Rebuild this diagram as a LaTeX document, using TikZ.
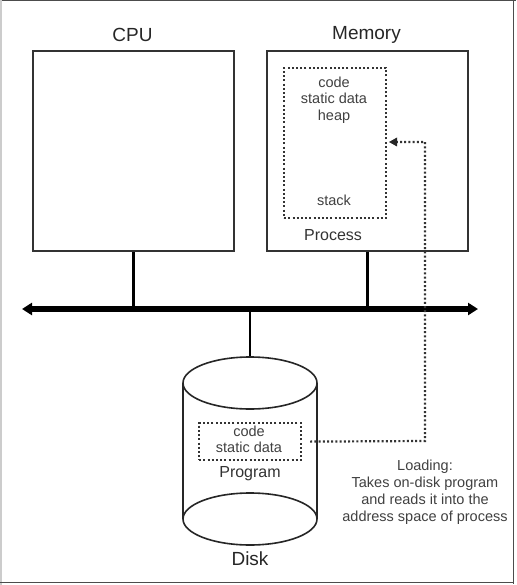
\documentclass[tikz,border=0pt]{standalone}
\usepackage{fontspec}
\setmainfont{Liberation Sans}
\usetikzlibrary{arrows.meta}
\begin{document}
\begin{tikzpicture}[x=1pt,y=-1pt,
  box/.style={draw=black!80, line width=1.8pt, inner sep=0pt},
  dotbox/.style={draw=black!80, line width=2.2pt, dash pattern=on 2pt off 2.2pt, inner sep=0pt},
  dotline/.style={draw=black!80, line width=2.2pt, dash pattern=on 2pt off 2.2pt},
  conn/.style={draw=black, line width=2.2pt},
  busline/.style={draw=black, line width=6pt, {Triangle[length=10pt,width=12pt]}-{Triangle[length=10pt,width=12pt]}},
  big/.style={text=black!85, inner sep=0pt, font=\fontsize{19}{19}\selectfont},
  mid/.style={text=black!80, inner sep=0pt, font=\fontsize{16}{16}\selectfont},
  small/.style={text=black!75, inner sep=0pt, font=\fontsize{14.5}{16.5}\selectfont, align=center},
  frame/.style={line width=1.2pt}
]
\useasboundingbox (0,0) rectangle (516,585);
% outer frame
\draw[frame, draw=black!70] (0,0.6) -- (516,0.6);
\draw[frame, draw=black!20] (1,0) -- (1,585);
\draw[frame, draw=black!70] (513.5,0) -- (513.5,583.5);
\draw[frame, draw=black!70] (0,582.8) -- (514,582.8);

% CPU and Memory boxes
\node[box, anchor=north west, minimum width=201pt, minimum height=200pt] (cpu) at (32,50) {};
\node[box, anchor=north west, minimum width=201pt, minimum height=200pt] (mem) at (266,50) {};
\node[big] (cpulbl) at (132.5,35) {CPU};
\node[big] (memlbl) at (366.5,35) {Memory};

% Process dotted box
\node[dotbox, anchor=north west, minimum width=102pt, minimum height=150pt] (proc) at (283,67) {};
\node[small] (pcode) at (334,100) {code\\static data\\heap};
\node[small, anchor=center] (pstack) at (334,200) {stack};
\node[mid] (proclbl) at (333,235) {Process};
\coordinate (tip) at (389,142);

% Bus
\coordinate (busL) at (22,309);
\coordinate (busR) at (478,309);
\draw[busline] (busL) -- (busR);
\draw[conn] (cpu.south) -- (cpu.south |- busL);
\draw[conn] (mem.south) -- (mem.south |- busL);

% Disk cylinder
\coordinate (disktop) at (250,357);
\draw[conn] (disktop |- busL) -- (disktop);
\draw[draw=black!85, line width=1.6pt, fill=white] (250,519) ellipse [x radius=67, y radius=26];
\draw[draw=black!85, line width=1.6pt] (183,383) -- (183,519);
\draw[draw=black!85, line width=1.6pt] (317,383) -- (317,519);
\draw[draw=black!85, line width=1.6pt] (250,383) ellipse [x radius=67, y radius=26];
\node[big] (disklbl) at (250,559) {Disk};

% Program dotted box
\node[dotbox, anchor=north west, minimum width=102pt, minimum height=37pt] (prog) at (198,422) {};
\node[small] (gcode) at (249,439.5) {code\\static data};
\node[mid] (proglbl) at (250,474) {Program};

% Loading dotted arrow
\coordinate (corner1) at (425,441);
\coordinate (corner2) at (425,142);
\draw[dotline] ([xshift=8pt]prog.east) -- (corner1) -- (corner2) -- ([xshift=6pt]tip);
\fill[black!85] (tip) -- ++(8,-4.5) -- ++(0,9) -- cycle;

\node[small, font=\fontsize{14.5}{17}\selectfont] (loadlbl) at (425,492) {Loading:\\Takes on-disk program\\and reads it into the\\address space of process};
\end{tikzpicture}
\end{document}
